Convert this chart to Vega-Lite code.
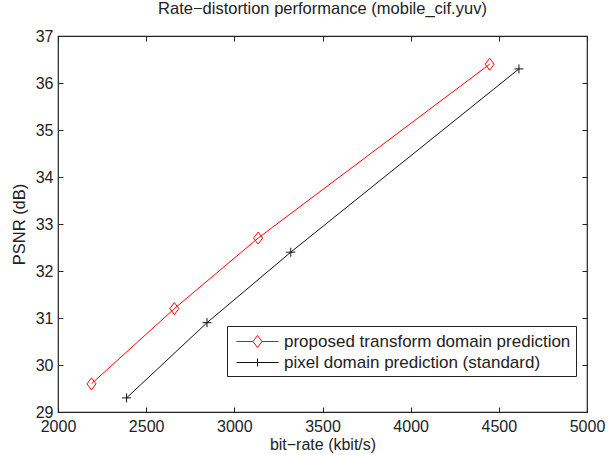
{
  "$schema": "https://vega.github.io/schema/vega-lite/v6.json",
  "width": 529,
  "height": 376,
  "autosize": {"type": "none"},
  "padding": {"left": 58, "top": 36, "right": 21, "bottom": 43},
  "background": "white",
  "title": {"text": "Rate−distortion performance (mobile_cif.yuv)", "fontSize": 16.5, "fontWeight": "normal", "font": "Liberation Sans", "color": "#222222", "offset": 11, "anchor": "middle"},
  "config": {
    "view": {"stroke": "#222222", "strokeWidth": 1.2},
    "font": "Liberation Sans",
    "axis": {"domain": false, "grid": false, "tickColor": "#222222", "tickSize": 5, "offset": -5, "labelColor": "#222222", "labelFontSize": 16, "labelFont": "Liberation Sans", "titleFont": "Liberation Sans", "titleFontSize": 16, "titleFontWeight": "normal", "titleColor": "#222222"}
  },
  "data": {"values": [
    {"series": "proposed transform domain prediction", "rate": 2190, "psnr": 29.6},
    {"series": "proposed transform domain prediction", "rate": 2660, "psnr": 31.2},
    {"series": "proposed transform domain prediction", "rate": 3135, "psnr": 32.7},
    {"series": "proposed transform domain prediction", "rate": 4448, "psnr": 36.4},
    {"series": "pixel domain prediction (standard)", "rate": 2389, "psnr": 29.3},
    {"series": "pixel domain prediction (standard)", "rate": 2845, "psnr": 30.9},
    {"series": "pixel domain prediction (standard)", "rate": 3320, "psnr": 32.4},
    {"series": "pixel domain prediction (standard)", "rate": 4614, "psnr": 36.3}
  ]},
  "layer": [
    {
      "transform": [{"filter": "datum.series === 'proposed transform domain prediction'"}],
      "mark": {"type": "line", "color": "#ff0000", "strokeWidth": 1},
      "encoding": {
        "x": {"field": "rate", "type": "quantitative", "scale": {"domain": [2000, 5000], "nice": false, "zero": false}, "axis": {"title": "bit−rate (kbit/s)", "format": "d", "values": [2000, 2500, 3000, 3500, 4000, 4500, 5000], "labelPadding": 6, "titlePadding": 2, "orient": "bottom", "labelFlush": false}},
        "y": {"field": "psnr", "type": "quantitative", "scale": {"domain": [29, 37], "nice": false, "zero": false}, "axis": {"title": "PSNR (dB)", "titleFontSize": 16.5, "values": [29, 30, 31, 32, 33, 34, 35, 36, 37], "labelPadding": 5, "titlePadding": 8, "orient": "left"}}
      }
    },
    {
      "transform": [{"filter": "datum.series === 'pixel domain prediction (standard)'"}],
      "mark": {"type": "line", "color": "#111111", "strokeWidth": 1},
      "encoding": {
        "x": {"field": "rate", "type": "quantitative", "axis": null},
        "y": {"field": "psnr", "type": "quantitative", "axis": null}
      }
    },
    {
      "transform": [{"filter": "datum.series === 'proposed transform domain prediction'"}],
      "mark": {"type": "point", "shape": "M0,-1L0.75,0L0,1L-0.75,0Z", "size": 144, "filled": false, "stroke": "#ff0000", "strokeWidth": 1, "opacity": 1},
      "encoding": {
        "x": {"field": "rate", "type": "quantitative", "axis": null},
        "y": {"field": "psnr", "type": "quantitative", "axis": null}
      }
    },
    {
      "transform": [{"filter": "datum.series === 'pixel domain prediction (standard)'"}],
      "mark": {"type": "point", "shape": "M-1,0H1M0,-1V1", "size": 81, "filled": false, "stroke": "#111111", "strokeWidth": 1, "opacity": 1},
      "encoding": {
        "x": {"field": "rate", "type": "quantitative", "axis": null},
        "y": {"field": "psnr", "type": "quantitative", "axis": null}
      }
    },
    {
      "transform": [{"filter": "datum.rate < 0"}],
      "mark": {"type": "point", "filled": false, "opacity": 1, "strokeWidth": 1},
      "encoding": {
        "x": {"field": "rate", "type": "quantitative", "axis": {"orient": "top", "title": null, "labels": false, "values": [2000, 2500, 3000, 3500, 4000, 4500, 5000]}},
        "y": {"field": "psnr", "type": "quantitative", "axis": {"orient": "right", "title": null, "labels": false, "values": [29, 30, 31, 32, 33, 34, 35, 36, 37]}},
        "color": {"field": "series", "type": "nominal", "scale": {"domain": ["proposed transform domain prediction", "pixel domain prediction (standard)"], "range": ["#ff0000", "#111111"]}, "legend": {"title": null, "orient": "none", "legendX": 169, "legendY": 290, "strokeColor": "#222222", "fillColor": "white", "padding": 5, "labelFontSize": 17, "labelFont": "Liberation Sans", "labelColor": "#222222", "symbolSize": 400, "symbolStrokeWidth": 1, "labelOffset": 31, "rowPadding": 2, "labelLimit": 400}},
        "shape": {"field": "series", "type": "nominal", "scale": {"domain": ["proposed transform domain prediction", "pixel domain prediction (standard)"], "range": ["M-0.6,0H1.05M1.95,0H3.6M1.5,-0.6L1.95,0L1.5,0.6L1.05,0Z", "M-0.6,0H3.6M1.5,-0.4V0.4"]}, "legend": {"title": null}}
      }
    }
  ],
  "resolve": {"axis": {"x": "independent", "y": "independent"}}
}
